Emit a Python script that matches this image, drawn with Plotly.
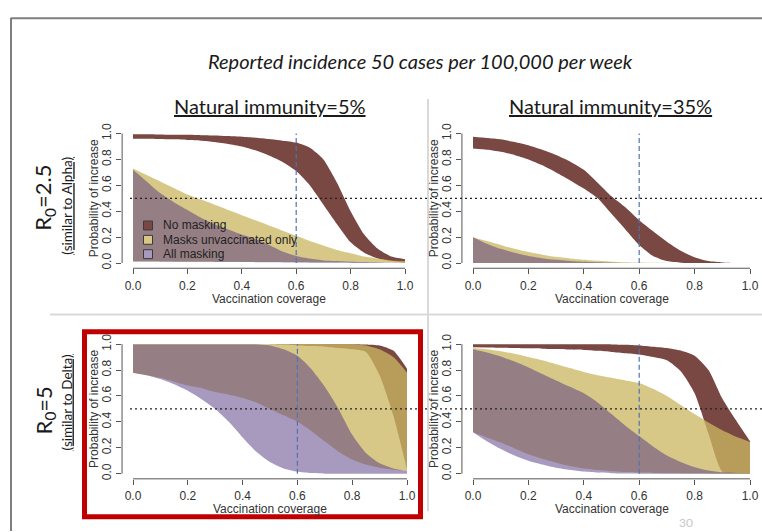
import plotly.graph_objects as go

W, H = 762, 532

# ---------------- data ----------------
x_cov = [0.0, 0.05, 0.1, 0.15, 0.2, 0.25, 0.3, 0.35, 0.4, 0.45, 0.5,
         0.55, 0.6, 0.65, 0.7, 0.75, 0.8, 0.85, 0.9, 0.95, 1.0]
tick_vals = [0.0, 0.2, 0.4, 0.6, 0.8, 1.0]
series_names = ["No masking", "Masks unvaccinated only", "All masking"]

# Top-left: R0=2.5, natural immunity 5%
tl_nomask_hi = [0.995, 0.995, 0.993, 0.99, 0.99, 0.987, 0.985, 0.98, 0.975, 0.968, 0.958,
                0.945, 0.93, 0.89, 0.80, 0.62, 0.40, 0.22, 0.11, 0.05, 0.03]
tl_nomask_lo = [0.96, 0.96, 0.958, 0.955, 0.95, 0.945, 0.935, 0.92, 0.90, 0.87, 0.83,
                0.78, 0.71, 0.60, 0.45, 0.30, 0.16, 0.08, 0.035, 0.015, 0.005]
tl_maskunvax_hi = [0.73, 0.68, 0.63, 0.58, 0.53, 0.49, 0.45, 0.41, 0.37, 0.33, 0.29,
                   0.25, 0.21, 0.17, 0.135, 0.10, 0.075, 0.05, 0.035, 0.02, 0.015]
tl_maskunvax_lo = [0.012, 0.012, 0.012, 0.011, 0.011, 0.01, 0.01, 0.01, 0.009, 0.009, 0.008,
                   0.008, 0.007, 0.007, 0.006, 0.006, 0.005, 0.005, 0.004, 0.004, 0.003]
tl_allmask_hi = [0.72, 0.63, 0.54, 0.47, 0.41, 0.35, 0.30, 0.26, 0.22, 0.185, 0.14,
                 0.09, 0.055, 0.035, 0.02, 0.015, 0.01, 0.008, 0.005, 0.003, 0.002]
tl_allmask_lo = [0.012, 0.012, 0.011, 0.011, 0.01, 0.01, 0.009, 0.009, 0.008, 0.007, 0.006,
                 0.005, 0.004, 0.003, 0.002, 0.002, 0.001, 0.001, 0.001, 0.0, 0.0]

# Top-right: R0=2.5, natural immunity 35%
tr_nomask_hi = [0.975, 0.965, 0.955, 0.935, 0.91, 0.875, 0.835, 0.785, 0.72, 0.62, 0.515,
                0.43, 0.33, 0.245, 0.165, 0.095, 0.045, 0.015, 0.005, 0.0, 0.0]
tr_nomask_lo = [0.885, 0.875, 0.86, 0.835, 0.80, 0.755, 0.70, 0.64, 0.575, 0.50, 0.38,
                0.26, 0.14, 0.055, 0.015, 0.003, 0.0, 0.0, 0.0, 0.0, 0.0]
tr_maskunvax_hi = [0.20, 0.17, 0.14, 0.11, 0.085, 0.065, 0.048, 0.035, 0.025, 0.017, 0.011,
                   0.007, 0.004, 0.002, 0.001, 0.0, 0.0, 0.0, 0.0, 0.0, 0.0]
tr_maskunvax_lo = [0.0] * 21
tr_allmask_hi = [0.20, 0.15, 0.11, 0.08, 0.055, 0.038, 0.025, 0.016, 0.01, 0.006, 0.003,
                 0.001, 0.0, 0.0, 0.0, 0.0, 0.0, 0.0, 0.0, 0.0, 0.0]
tr_allmask_lo = [0.0] * 21

# Bottom-left: R0=5, natural immunity 5%
bl_nomask_hi = [1.0, 1.0, 1.0, 1.0, 1.0, 1.0, 1.0, 1.0, 1.0, 1.0, 1.0,
                1.0, 1.0, 1.0, 1.0, 1.0, 1.0, 0.998, 0.99, 0.95, 0.81]
bl_nomask_lo = [0.998, 0.998, 0.998, 0.998, 0.998, 0.998, 0.998, 0.998, 0.998, 0.998, 0.998,
                0.995, 0.99, 0.985, 0.98, 0.97, 0.96, 0.94, 0.76, 0.45, 0.03]
bl_maskunvax_hi = [1.0, 1.0, 1.0, 1.0, 1.0, 1.0, 1.0, 1.0, 1.0, 1.0, 1.0,
                   1.0, 1.0, 1.0, 1.0, 1.0, 1.0, 0.99, 0.96, 0.90, 0.78]
bl_maskunvax_lo = [0.78, 0.76, 0.74, 0.71, 0.68, 0.66, 0.63, 0.61, 0.585, 0.55, 0.50,
                   0.45, 0.40, 0.33, 0.25, 0.17, 0.11, 0.07, 0.045, 0.03, 0.02]
bl_allmask_hi = [0.998, 0.998, 0.998, 0.998, 0.998, 0.998, 0.998, 0.998, 0.998, 0.997, 0.99,
                 0.96, 0.91, 0.81, 0.67, 0.50, 0.30, 0.16, 0.08, 0.04, 0.02]
bl_allmask_lo = [0.78, 0.76, 0.73, 0.69, 0.64, 0.575, 0.50, 0.40, 0.28, 0.17, 0.09,
                 0.04, 0.015, 0.005, 0.0, 0.0, 0.0, 0.0, 0.0, 0.0, 0.0]

# Bottom-right: R0=5, natural immunity 35%
br_nomask_hi = [1.0, 1.0, 1.0, 1.0, 1.0, 1.0, 1.0, 1.0, 1.0, 0.999, 0.998,
                0.995, 0.99, 0.98, 0.97, 0.95, 0.91, 0.80, 0.58, 0.41, 0.25]
br_nomask_lo = [0.975, 0.974, 0.972, 0.97, 0.968, 0.965, 0.962, 0.958, 0.955, 0.948, 0.94,
                0.93, 0.92, 0.90, 0.875, 0.79, 0.62, 0.31, 0.015, 0.005, 0.0]
br_maskunvax_hi = [0.97, 0.96, 0.945, 0.925, 0.90, 0.875, 0.845, 0.815, 0.785, 0.76, 0.74,
                   0.72, 0.70, 0.655, 0.60, 0.53, 0.46, 0.395, 0.335, 0.285, 0.245]
br_maskunvax_lo = [0.32, 0.28, 0.24, 0.195, 0.15, 0.115, 0.085, 0.06, 0.04, 0.028, 0.018,
                   0.012, 0.008, 0.005, 0.003, 0.002, 0.001, 0.0, 0.0, 0.0, 0.0]
br_allmask_hi = [0.96, 0.935, 0.905, 0.865, 0.82, 0.77, 0.72, 0.67, 0.62, 0.55, 0.46,
                 0.37, 0.29, 0.21, 0.14, 0.09, 0.05, 0.025, 0.01, 0.005, 0.0]
br_allmask_lo = [0.32, 0.25, 0.19, 0.14, 0.10, 0.07, 0.045, 0.028, 0.016, 0.008, 0.004,
                 0.001, 0.0, 0.0, 0.0, 0.0, 0.0, 0.0, 0.0, 0.0, 0.0]

# ---------------- styles ----------------
fill_colors = ["rgb(122,72,66)", "rgba(204,183,99,0.76)", "rgba(81,53,127,0.5)"]
swatch_colors = ["rgb(122,72,66)", "rgb(216,200,136)", "rgb(168,154,191)"]
SLIDE_FONT = "Lato"
PLOT_FONT = "Liberation Sans"
TXT = "#333333"
AX = "#555555"

panels = [
    # (bands, px of x=0, px of x=1, px of y=1, px of y=0)
    ([(tl_nomask_lo, tl_nomask_hi), (tl_maskunvax_lo, tl_maskunvax_hi), (tl_allmask_lo, tl_allmask_hi)],
     133, 405, 130, 261),
    ([(tr_nomask_lo, tr_nomask_hi), (tr_maskunvax_lo, tr_maskunvax_hi), (tr_allmask_lo, tr_allmask_hi)],
     473, 750, 130, 261),
    ([(bl_nomask_lo, bl_nomask_hi), (bl_maskunvax_lo, bl_maskunvax_hi), (bl_allmask_lo, bl_allmask_hi)],
     133, 407, 343, 474),
    ([(br_nomask_lo, br_nomask_hi), (br_maskunvax_lo, br_maskunvax_hi), (br_allmask_lo, br_allmask_hi)],
     473, 750, 343, 474),
]


def px(v):
    return v / W


def py(v):
    return 1 - v / H


def note(text, x, y, size, family, color="#1a1a1a", angle=0, xanchor="center"):
    return dict(text=text, xref="paper", yref="paper", x=px(x), y=py(y),
                xanchor=xanchor, yanchor="middle", showarrow=False, textangle=angle,
                font=dict(family=family, size=size, color=color))


fig = go.Figure()
layout_axes = {}
shapes = []
annotations = []

for i, (bands, x0p, x1p, y1p, y0p) in enumerate(panels):
    n = "" if i == 0 else str(i + 1)
    xa, ya = "x" + n, "y" + n
    for (lo, hi), name, col in zip(bands, series_names, fill_colors):
        edge = dict(width=0, shape="spline", smoothing=0.6)
        fig.add_trace(go.Scatter(x=x_cov, y=lo, mode="lines", line=edge, name=name,
                                 showlegend=False, hoverinfo="skip", xaxis=xa, yaxis=ya))
        fig.add_trace(go.Scatter(x=x_cov, y=hi, mode="lines", line=edge, name=name,
                                 fill="tonexty", fillcolor=col,
                                 showlegend=False, hoverinfo="skip", xaxis=xa, yaxis=ya))
    sx = x1p - x0p
    sy = y0p - y1p
    xdom = [px(x0p - 0.04 * sx), min(1.0, px(x1p + 0.04 * sx))]
    ydom = [py(y0p + 0.04 * sy), py(y1p - 0.04 * sy)]
    common = dict(range=[-0.04, 1.04], tickvals=tick_vals, tickformat=".1f",
                  ticks="outside", ticklen=5, tickwidth=1, tickcolor=AX,
                  showgrid=False, zeroline=False, showline=False,
                  tickfont=dict(family=PLOT_FONT, size=12, color=TXT), fixedrange=True)
    layout_axes["xaxis" + n] = dict(domain=xdom, anchor=ya, ticklabelstandoff=1, **common)
    layout_axes["yaxis" + n] = dict(domain=ydom, anchor=xa, tickangle=-90,
                                    ticklabelstandoff=0, **common)
    # R-style axis lines spanning 0..1
    shapes.append(dict(type="line", xref=xa, yref=ya + " domain", x0=0, x1=1, y0=0, y1=0,
                       line=dict(color=AX, width=1)))
    shapes.append(dict(type="line", xref=xa + " domain", yref=ya, x0=0, x1=0, y0=0, y1=1,
                       line=dict(color=AX, width=1)))
    # vaccination coverage reference line at 0.6
    shapes.append(dict(type="line", xref=xa, yref=ya, x0=0.6, x1=0.6, y0=0, y1=1,
                       line=dict(color="#4f72b3", width=1.2, dash="5px,3px"), layer="above"))
    # axis titles
    annotations.append(note("Vaccination coverage", (x0p + x1p) / 2, y0p + 36, 12, PLOT_FONT, TXT))
    annotations.append(note("Probability of increase", x0p - 39, (y0p + y1p) / 2, 12,
                            PLOT_FONT, TXT, angle=-90))

# 0.5 threshold dotted lines spanning each row
for ya in ["y", "y3"]:
    shapes.append(dict(type="line", xref="paper", yref=ya, x0=px(130), x1=1, y0=0.5, y1=0.5,
                       line=dict(color="#222222", width=1.2, dash="2px,3px"), layer="above"))

# slide decorations
shapes += [
    dict(type="line", xref="paper", yref="paper", x0=px(11), x1=1, y0=py(13.5), y1=py(13.5),
         line=dict(color="#7f7f7f", width=2)),
    dict(type="line", xref="paper", yref="paper", x0=px(11), x1=px(11), y0=py(13), y1=0,
         line=dict(color="#7f7f7f", width=2)),
    dict(type="line", xref="paper", yref="paper", x0=px(428), x1=px(428), y0=py(95), y1=py(512),
         line=dict(color="#d9d9d9", width=2)),
    dict(type="line", xref="paper", yref="paper", x0=px(50), x1=1, y0=py(313), y1=py(313),
         line=dict(color="#d9d9d9", width=2)),
    dict(type="rect", xref="paper", yref="paper", x0=px(84.5), x1=px(420.5),
         y0=py(330.5), y1=py(517.5), line=dict(color="#c00000", width=5), layer="above"),
]

# manual legend (top-left panel)
leg_y = [223, 237.5, 252]
for name, col, yy in zip(series_names, swatch_colors, leg_y):
    shapes.append(dict(type="rect", xref="paper", yref="paper", x0=px(143.5), x1=px(152.5),
                       y0=py(yy + 4.5), y1=py(yy - 4.5), fillcolor=col,
                       line=dict(color="#3a3a3a", width=1), layer="above"))
    annotations.append(note(name, 161, yy, 12, PLOT_FONT, "#222222", xanchor="left"))

# slide texts
annotations += [
    note("<i>Reported incidence 50 cases per 100,000 per week</i>", 420, 57, 20, SLIDE_FONT),
    note("<u>Natural immunity=5%</u>", 270, 102, 20, SLIDE_FONT),
    note("<u>Natural immunity=35%</u>", 610, 102, 20, SLIDE_FONT),
    note("R<sub>0</sub>=2.5", 44, 195, 22, SLIDE_FONT, angle=-90),
    note("<u>(similar to Alpha)</u>", 67, 203, 13.5, SLIDE_FONT, angle=-90),
    note("R<sub>0</sub>=5", 45, 410, 22, SLIDE_FONT, angle=-90),
    note("<u>(similar to Delta)</u>", 67, 402, 13.5, SLIDE_FONT, angle=-90),
    note("30", 686, 523, 12, SLIDE_FONT, "#c8c8c8"),
]

fig.update_layout(
    width=W, height=H, margin=dict(l=0, r=0, t=0, b=0),
    paper_bgcolor="white", plot_bgcolor="rgba(0,0,0,0)",
    showlegend=False, shapes=shapes, annotations=annotations, **layout_axes)

fig.write_html("out.html", config={"displayModeBar": False},
               post_script="document.body.style.margin='0px';")
